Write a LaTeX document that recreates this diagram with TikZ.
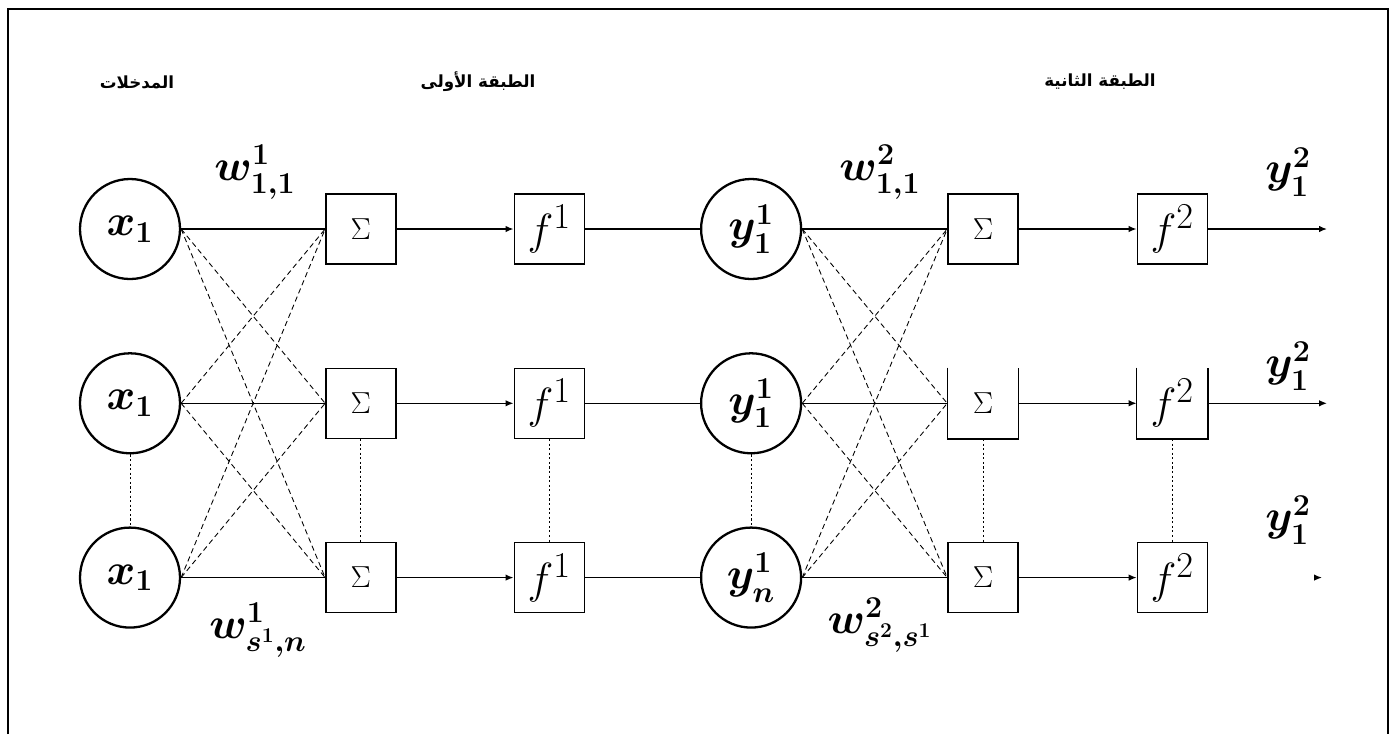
\documentclass[tikz,border=0pt]{standalone}
\usepackage{fontspec}
\newfontfamily\arabicfont[Script=Arabic]{DejaVu Sans}
\TeXXeTstate=1
\usepackage{amsmath,amssymb}
\usetikzlibrary{positioning,arrows.meta}

\begin{document}
\begin{tikzpicture}[
    neuronStyle/.style={
        circle, draw, line width=1.3pt, minimum size=2cm, inner sep=0pt,
        font=\fontsize{24}{26}\selectfont\boldmath
    },
    sumStyle/.style={
        rectangle, draw, line width=0.8pt, minimum size=1.4cm, inner sep=0pt,
        font=\fontsize{17}{19}\selectfont
    },
    funcStyle/.style={
        rectangle, draw, line width=0.8pt, minimum size=1.4cm, inner sep=0pt,
        font=\fontsize{28}{30}\selectfont
    },
    weightStyle/.style={font=\fontsize{24}{26}\selectfont\boldmath},
    headStyle/.style={font=\arabicfont\bfseries\fontsize{9.5}{11}\selectfont},
    wireStyle/.style={line width=0.8pt},
    crossStyle/.style={line width=0.5pt, dash pattern=on 3pt off 2pt},
    dotStyle/.style={line width=0.5pt, dash pattern=on 1.2pt off 1.4pt},
    arrowStyle/.style={-{Latex[length=1.6mm,width=1.3mm]}, line width=0.8pt}
]
    \useasboundingbox (0,0) rectangle (27.86,-14.68);
    % Frame (open at the bottom)
    \draw[line width=1.6pt] (0.16,-14.68) |- (27.76,-0.18) -- (27.76,-14.68);

    % Headers
    \node[headStyle] (hIn) at (2.74,-1.64) {\beginR المدخلات\endR};
    \node[headStyle] (hOne) at (9.56,-1.64) {\beginR الطبقة الأولى\endR};
    \node[headStyle] (hTwo) at (22.0,-1.64) {\beginR الطبقة الثانية\endR};

    % Inputs
    \node[neuronStyle] (x1) at (2.6,-4.58) {$x_1$};
    \node[neuronStyle, below=1.44cm of x1] (x2) {$x_1$};
    \node[neuronStyle, below=1.44cm of x2] (x3) {$x_1$};

    % First layer
    \node[sumStyle, right=2.88cm of x1] (s1) {$\Sigma$};
    \node[sumStyle, right=2.88cm of x2] (s2) {$\Sigma$};
    \node[sumStyle, right=2.88cm of x3] (s3) {$\Sigma$};
    \node[funcStyle, right=2.34cm of s1] (f1) {$f^1$};
    \node[funcStyle, right=2.34cm of s2] (f2) {$f^1$};
    \node[funcStyle, right=2.34cm of s3] (f3) {$f^1$};
    \node[neuronStyle, right=2.3cm of f1] (y1) {$y^1_1$};
    \node[neuronStyle, right=2.3cm of f2] (y2) {$y^1_1$};
    \node[neuronStyle, right=2.3cm of f3] (y3) {$y^1_n$};

    % Second layer
    \node[sumStyle, right=2.9cm of y1] (t1) {$\Sigma$};
    \node[sumStyle, draw=none, right=2.9cm of y2] (t2) {$\Sigma$};
    \node[sumStyle, right=2.9cm of y3] (t3) {$\Sigma$};
    \node[funcStyle, right=2.36cm of t1] (g1) {$f^2$};
    \node[funcStyle, draw=none, right=2.36cm of t2] (g2) {$f^2$};
    \node[funcStyle, right=2.36cm of t3] (g3) {$f^2$};
    \draw[wireStyle] (t2.north west) -- (t2.south west) -- (t2.south east) -- (t2.north east);
    \draw[wireStyle] (g2.north west) -- (g2.south west) -- (g2.south east) -- (g2.north east);

    % Output ends
    \coordinate[right=2.38cm of g1] (o1);
    \coordinate[right=2.38cm of g2] (o2);
    \coordinate[right=2.12cm of g3] (o3s);
    \coordinate[right=2.28cm of g3] (o3);

    % Weights and outputs
    \node[weightStyle] (w1a) at (5.1,-3.44) {$w^1_{1,1}$};
    \node[weightStyle] (w1b) at (5.16,-12.6) {$w^1_{s^1,n}$};
    \node[weightStyle] (w2a) at (17.6,-3.44) {$w^2_{1,1}$};
    \node[weightStyle] (w2b) at (17.6,-12.5) {$w^2_{s^2,s^1}$};
    \node[weightStyle] (out1) at (25.76,-3.44) {$y^2_1$};
    \node[weightStyle] (out2) at (25.76,-7.32) {$y^2_1$};
    \node[weightStyle] (out3) at (25.76,-10.4) {$y^2_1$};

    % Full connections
    \foreach \i in {1,2,3} {
        \foreach \j in {1,2,3} {
            \ifnum\i=\j
                \draw[wireStyle] (x\i.east) -- (s\j.west);
                \draw[wireStyle] (y\i.east) -- (t\j.west);
            \else
                \draw[crossStyle] (x\i.east) -- (s\j.west);
                \draw[crossStyle] (y\i.east) -- (t\j.west);
            \fi
        }
    }

    % Row connections
    \foreach \i in {1,2,3} {
        \draw[arrowStyle] (s\i) -- (f\i);
        \draw[wireStyle] (f\i) -- (y\i);
        \draw[arrowStyle] (t\i) -- (g\i);
    }
    \draw[arrowStyle] (g1) -- (o1);
    \draw[arrowStyle] (g2) -- (o2);
    \draw[arrowStyle] (o3s) -- (o3);

    % Dotted links
    \foreach \n in {x,s,f,y,t,g}
        \draw[dotStyle] (\n2.south) -- (\n3.north);
\end{tikzpicture}
\end{document}
